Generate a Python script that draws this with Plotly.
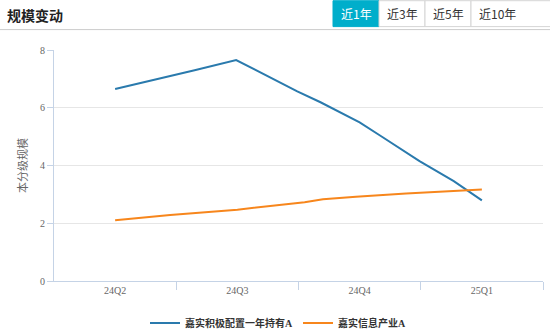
import plotly.graph_objects as go

# ---- data ----
quarters = ["24Q2", "24Q3", "24Q4", "25Q1"]
blue_name = "嘉实积极配置一年持有A"
blue_x = [0.0, 0.33, 0.65, 0.99, 1.10, 1.29, 1.49, 1.68, 1.84, 2.00, 2.17, 2.33, 2.49, 2.77, 3.0]
blue_y = [6.65, 6.97, 7.30, 7.65, 7.41, 7.01, 6.57, 6.19, 5.83, 5.49, 5.03, 4.60, 4.15, 3.46, 2.79]
orange_name = "嘉实信息产业A"
orange_x = [0.0, 0.45, 1.0, 1.43, 1.55, 1.70, 1.97, 2.38, 2.65, 3.0]
orange_y = [2.10, 2.29, 2.47, 2.66, 2.73, 2.83, 2.92, 3.03, 3.09, 3.17]
y_ticks = [0, 2, 4, 6, 8]
buttons = ["近1年", "近3年", "近5年", "近10年"]

W, H = 550, 333
L, R, T, B = 54, 7, 49.5, 51.5
PW, PH = W - L - R, H - T - B

def px(x):
    return (x - L) / PW

def py(y):
    return (H - B - y) / PH

serif = "Liberation Serif, Noto Sans CJK SC, serif"
cjk = "Noto Sans CJK SC, sans-serif"

fig = go.Figure()
fig.add_trace(go.Scatter(x=blue_x, y=blue_y, mode="lines", name=blue_name,
                         line=dict(color="#2a7aad", width=2)))
fig.add_trace(go.Scatter(x=orange_x, y=orange_y, mode="lines", name=orange_name,
                         line=dict(color="#f7861c", width=2)))

fig.update_layout(
    width=W, height=H,
    margin=dict(l=L, r=R, t=T, b=B),
    paper_bgcolor="white", plot_bgcolor="white",
    showlegend=True,
    legend=dict(orientation="h", xref="container", x=278 / W, xanchor="center",
                yref="container", y=(H - 323) / H, yanchor="middle",
                font=dict(family=serif, size=10, color="#333", weight="bold"),
                itemwidth=30, tracegroupgap=0, bgcolor="rgba(0,0,0,0)"),
    xaxis=dict(range=[-0.5, 3.5], tickmode="array", tickvals=[0, 1, 2, 3], ticktext=quarters,
               ticks="", showgrid=False, zeroline=False,
               showline=True, linecolor="#c5d3e6", linewidth=1,
               tickfont=dict(family=serif, size=10, color="#666"),
               minor=dict(tickmode="array", tickvals=[0.5, 1.5, 2.5, 3.5], ticks="outside",
                          ticklen=8, tickcolor="#c5d3e6", tickwidth=1, showgrid=False),
               fixedrange=True, automargin=False),
    yaxis=dict(range=[0, 8], tickmode="array", tickvals=y_ticks,
               showgrid=True, gridcolor="#e6e6e6", gridwidth=1, zeroline=False,
               showline=True, linecolor="#c5d3e6", linewidth=1,
               ticks="outside", ticklen=6, tickcolor="#c5d3e6",
               tickfont=dict(family=serif, size=10, color="#666"),
               title=dict(text="本分级规模", font=dict(family=serif, size=11, color="#666"), standoff=10),
               fixedrange=True, automargin=False),
)

shapes = []
annotations = []
# header line
shapes.append(dict(type="line", xref="paper", yref="paper", x0=px(0), x1=px(W), y0=py(29), y1=py(29),
                   line=dict(color="#cccccc", width=1)))
# title
annotations.append(dict(xref="paper", yref="paper", x=px(5), y=py(14), xanchor="left", yanchor="middle",
                        text="<b>规模变动</b>", showarrow=False,
                        font=dict(family=cjk, size=14, color="#222")))
# buttons
bx = [333, 379, 425, 471, 560]
tx = [356, 402, 448, 497]
for i, lab in enumerate(buttons):
    active = i == 0
    shapes.append(dict(type="rect", xref="paper", yref="paper",
                       x0=px(bx[i]), x1=px(bx[i + 1]), y0=py(26), y1=py(0),
                       fillcolor="#00aecb" if active else "white",
                       line=dict(color="#00aecb" if active else "#d5d5d5", width=1), layer="above"))
    annotations.append(dict(xref="paper", yref="paper", x=px(tx[i]), y=py(13),
                            xanchor="center", yanchor="middle", text=lab, showarrow=False,
                            font=dict(family=cjk, size=12, color="white" if active else "#333")))
fig.update_layout(shapes=shapes, annotations=annotations)

fig.write_html("out.html")
